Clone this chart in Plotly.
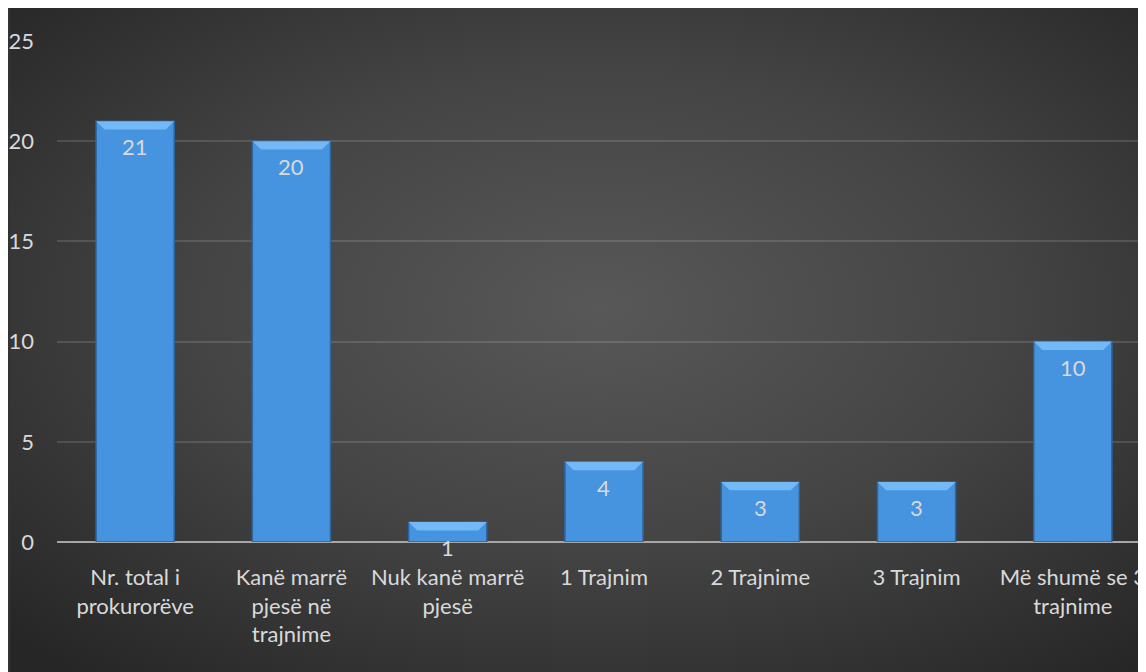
import base64
import plotly.graph_objects as go

categories = ["Nr. total i<br>prokurorëve", "Kanë marrë<br>pjesë në<br>trajnime",
              "Nuk kanë marrë<br>pjesë", "1 Trajnim", "2 Trajnime", "3 Trajnim",
              "Më shumë se 3<br>trajnime"]
values = [21, 20, 1, 4, 3, 3, 10]
y_ticks = [0, 5, 10, 15, 20, 25]

# page body has an 8px margin in the browser
W, H = 1138, 664
ML, MR, MT, MB = 47, 0, 33, 130
pw, ph = W - ML - MR, H - MT - MB

svg = f'''<svg xmlns="http://www.w3.org/2000/svg" width="{W}" height="{H}" viewBox="0 0 {W} {H}" preserveAspectRatio="none">
<defs><radialGradient id="g" cx="0.52" cy="0.45" r="0.72" fx="0.52" fy="0.45">
<stop offset="0" stop-color="#585858"/><stop offset="0.5" stop-color="#444444"/>
<stop offset="1" stop-color="#262626"/></radialGradient></defs>
<rect width="{W}" height="{H}" fill="url(#g)"/></svg>'''
src = "data:image/svg+xml;base64," + base64.b64encode(svg.encode()).decode()

x_idx = list(range(len(categories)))
fig = go.Figure()
fig.add_trace(go.Bar(
    x=x_idx, y=values, width=0.5,
    marker=dict(color="#4694df", line=dict(color="#2d659e", width=1.5)),
    hoverinfo="skip",
))

shapes = []
for i, v in enumerate(values):
    x0, x1 = i - 0.25, i + 0.25
    bh = 0.42
    inset = 0.055
    shapes.append(dict(
        type="path", xref="x", yref="y", layer="above",
        path=f"M {x0},{v} L {x1},{v} L {x1-inset},{v-bh} L {x0+inset},{v-bh} Z",
        fillcolor="#72b9f6", line=dict(width=0),
    ))

annotations = []
for i, v in enumerate(values):
    annotations.append(dict(
        x=i, y=v, xref="x", yref="y", text=str(v), showarrow=False,
        yanchor="top", yshift=-10,
        font=dict(family="Lato", size=22, color="#d9d9d9"),
    ))

fig.update_layout(
    width=W, height=H,
    margin=dict(l=ML, r=MR, t=MT, b=MB, pad=0),
    paper_bgcolor="#333333", plot_bgcolor="rgba(0,0,0,0)",
    showlegend=False,
    shapes=shapes,
    annotations=annotations,
    images=[dict(
        source=src, xref="paper", yref="paper",
        x=-ML / pw, y=1 + MT / ph,
        sizex=W / pw, sizey=H / ph,
        xanchor="left", yanchor="top", sizing="stretch", layer="below",
    )],
    xaxis=dict(
        tickmode="array", tickvals=x_idx, ticktext=categories,
        range=[-0.5, 6.5 - 6 / 157],
        showgrid=False, zeroline=False, showline=False, ticks="",
        tickfont=dict(family="Lato", size=22, color="#d9d9d9"),
        ticklabelstandoff=20, ticklabeloverflow="allow",
    ),
    yaxis=dict(
        range=[0, 25], tickvals=y_ticks,
        showgrid=True, gridcolor="rgba(255,255,255,0.13)", gridwidth=1.5,
        zeroline=True, zerolinecolor="#a6a6a6", zerolinewidth=2,
        showline=False, ticks="",
        tickfont=dict(family="Lato", size=22, color="#d9d9d9"),
        ticklabelstandoff=22,
    ),
    bargap=0.5,
)

fig.write_html("out.html")
